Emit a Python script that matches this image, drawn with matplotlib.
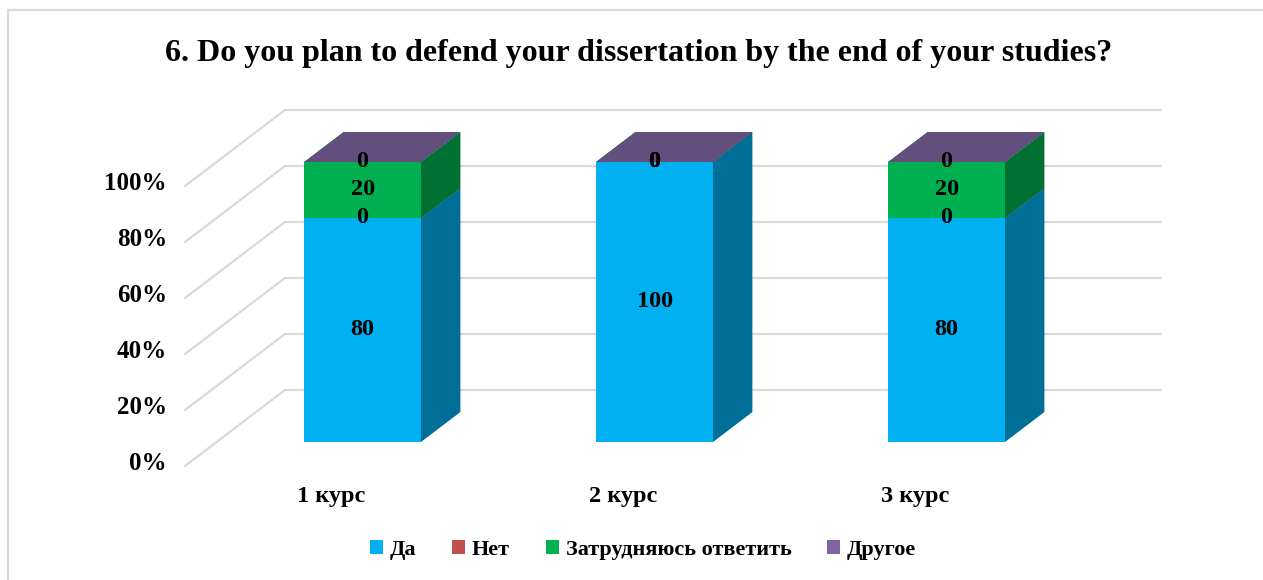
import numpy as np
import matplotlib.pyplot as plt
from matplotlib.patches import Polygon, Patch
from matplotlib.lines import Line2D

plt.rcParams['font.family'] = ['Liberation Serif', 'DejaVu Serif']
plt.rcParams['font.weight'] = 'bold'

title = "6. Do you plan to defend your dissertation by the end of your studies?"
courses = ["1 курс", "2 курс", "3 курс"]
series = ["Да", "Нет", "Затрудняюсь ответить", "Другое"]
da = [80, 100, 80]
net = [0, 0, 0]
zatr = [20, 0, 20]
drugoe = [0, 0, 0]
values = [da, net, zatr, drugoe]
yticks = [0, 20, 40, 60, 80, 100]

colors = ["#00B0F0", "#C0504D", "#00B050", "#8064A2"]
side_colors = ["#006F98", "#7A302E", "#007033", "#524069"]
top_colors = ["#0090C4", "#9C3F3C", "#009143", "#634F7D"]
grid_color = "#D9D9D9"

# depth offsets for the fake 3d projection (data units per unit depth)
DX = 100 / 292
DY = 76 / 2.8
d_front, d_back = 0.316, 0.71
half_w = 0.2


def proj(x, y, d):
    return (x + d * DX, y + d * DY)


fig = plt.figure(figsize=(12.63, 5.8), dpi=100)
ax = fig.add_axes([185 / 1263, 114 / 580, 876 / 1263, 280 / 580])
ax.set_xlim(-0.5, 2.5)
ax.set_ylim(0, 100)
ax.axis('off')

# back wall and side wall gridlines
for t in yticks:
    a = proj(-0.5, t, 0)
    b = proj(-0.5, t, 1)
    c = proj(2.5, t, 1)
    ax.plot([a[0], b[0], c[0]], [a[1], b[1], c[1]], color=grid_color,
            lw=1.6, clip_on=False, zorder=1)
    ax.text(-0.5 - 18 / 292, t + 1.0, f"{t}%", ha='right', va='center',
            fontsize=18, fontweight='bold')

for i, name in enumerate(courses):
    ax.text(i, -11, name, ha='center', va='center', fontsize=17.5,
            fontweight='bold')

z = 2
for i in range(len(courses)):
    bottom = 0
    for k in range(len(series)):
        v = values[k][i]
        top = bottom + v
        x0, x1 = i - half_w, i + half_w
        front = [proj(x0, bottom, d_front), proj(x1, bottom, d_front),
                 proj(x1, top, d_front), proj(x0, top, d_front)]
        side = [proj(x1, bottom, d_front), proj(x1, bottom, d_back),
                proj(x1, top, d_back), proj(x1, top, d_front)]
        lid = [proj(x0, top, d_front), proj(x1, top, d_front),
               proj(x1, top, d_back), proj(x0, top, d_back)]
        if v > 0:
            ax.add_patch(Polygon(front, closed=True, fc=colors[k], ec='none',
                                 clip_on=False, zorder=z))
            ax.add_patch(Polygon(side, closed=True, fc=side_colors[k],
                                 ec='none', clip_on=False, zorder=z))
        ax.add_patch(Polygon(lid, closed=True, fc=top_colors[k], ec='none',
                             clip_on=False, zorder=z))
        z += 1
        bottom = top

# data labels on the front faces
for i in range(len(courses)):
    bottom = 0
    for k in range(len(series)):
        v = values[k][i]
        cx, cy = proj(i, bottom + v / 2, d_front)
        ax.text(cx, cy, f"{v}", ha='center', va='center', fontsize=17.5,
                fontweight='bold', zorder=50, clip_on=False)
        bottom += v

fig.text(639 / 1263, 1 - 53 / 580, title, ha='center', va='center',
         fontsize=23, fontweight='bold')

handles = [Patch(facecolor=c, edgecolor='none') for c in colors]
fig.legend(handles, series, loc='center', bbox_to_anchor=(643 / 1263, 1 - 550 / 580),
           ncol=4, frameon=False, handlelength=0.6, handleheight=0.6,
           handletextpad=0.3, columnspacing=1.6,
           prop={'size': 16, 'weight': 'bold'})

# chart area border
fig.add_artist(Line2D([8 / 1263, 8 / 1263], [0, 1 - 10 / 580], color=grid_color,
                      lw=1.6, transform=fig.transFigure))
fig.add_artist(Line2D([8 / 1263, 1], [1 - 10 / 580, 1 - 10 / 580], color=grid_color,
                      lw=1.6, transform=fig.transFigure))

fig.savefig("out.png", dpi=100)
